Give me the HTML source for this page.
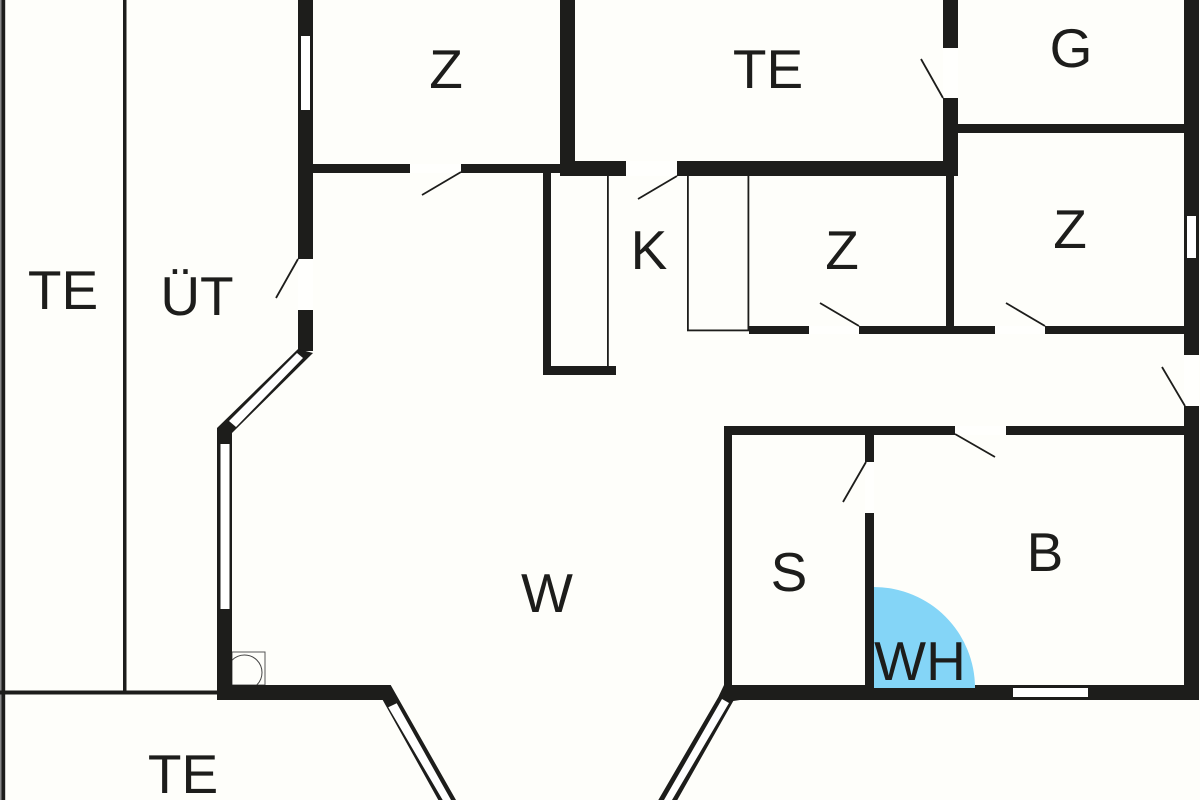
<!DOCTYPE html>
<html>
<head>
<meta charset="utf-8">
<style>
html,body{margin:0;padding:0;background:#fefefa;}
svg{display:block;}
text{font-family:"Liberation Sans",sans-serif;font-size:55px;fill:#1d1d1b;text-anchor:middle;}
</style>
</head>
<body>
<svg width="1200" height="800" viewBox="0 0 1200 800" xmlns="http://www.w3.org/2000/svg">
<rect width="1200" height="800" fill="#fefefa"/>

<!-- blue area -->
<path d="M874 587 A101 101 0 0 1 975 688 L874 688 Z" fill="#84d5f7"/>

<!-- boiler -->
<rect x="232" y="652" width="33" height="33" fill="none" stroke="#555" stroke-width="1"/>
<circle cx="244.5" cy="672.5" r="17.5" fill="none" stroke="#444" stroke-width="1"/>

<g fill="#1d1d1b">
<!-- outer thin lines -->
<rect x="0" y="0" width="1.5" height="800" fill="#888"/>
<rect x="1.5" y="0" width="3.7" height="800"/>
<rect x="123" y="0" width="3.5" height="692"/>
<rect x="0" y="690.5" width="218" height="4"/>

<!-- upper left wall -->
<rect x="298" y="0" width="15" height="259"/>
<rect x="298" y="310" width="15" height="41"/>
<polygon points="298,349 313,353 232,433 217,428"/>
<rect x="217" y="428" width="15" height="272"/>
<rect x="217" y="685" width="168" height="15"/>
<polygon points="380,685 390.7,685 456,800 438.3,800 382.7,700 380,700"/>

<!-- bottom right diag -->
<polygon points="724,685 718.3,697 658.3,800 677.3,800 733.3,701 740,700 740,685"/>

<!-- Z room bottom -->
<rect x="313" y="164" width="97" height="9"/>
<rect x="461" y="164" width="100" height="9"/>

<!-- TE room walls -->
<rect x="560" y="0" width="15" height="176"/>
<rect x="560" y="161" width="66" height="15"/>
<rect x="677" y="161" width="281" height="15"/>
<rect x="943" y="0" width="15" height="48"/>
<rect x="943" y="98" width="15" height="78"/>

<!-- G / right -->
<rect x="958" y="124" width="227" height="9"/>
<rect x="1184" y="0" width="15" height="355"/>

<!-- pillar -->
<rect x="543" y="173" width="8" height="202"/>
<rect x="543" y="366" width="73" height="9"/>
<rect x="607" y="176" width="1.8" height="190"/>

<!-- closet -->
<rect x="687" y="176" width="1.8" height="155"/>
<rect x="747.5" y="176" width="1.8" height="155"/>
<rect x="687" y="329.5" width="62" height="1.8"/>

<!-- Z rooms -->
<rect x="749" y="326" width="60" height="8"/>
<rect x="859" y="326" width="136" height="8"/>
<rect x="1045" y="326" width="140" height="8"/>
<rect x="946" y="176" width="8" height="150"/>

<!-- S / B -->
<rect x="724" y="426" width="231" height="9"/>
<rect x="1006" y="426" width="178" height="9"/>
<rect x="724" y="426" width="8" height="270"/>
<rect x="724" y="685" width="150" height="15"/>
<rect x="874" y="688" width="325" height="12"/>
<rect x="975" y="685" width="224" height="15"/>
<rect x="865" y="435" width="9" height="27"/>
<rect x="865" y="513" width="9" height="175"/>
<rect x="1184" y="406" width="15" height="294"/>
</g>

<!-- windows -->
<g fill="#ffffff">
<rect x="301" y="36" width="9" height="74"/>
<rect x="1187" y="216" width="9" height="42"/>
<rect x="1013" y="688" width="75" height="9"/>
<rect x="220.5" y="444" width="9" height="165"/>
<polygon points="297,353 303,358 236,427 229,421"/>
<polygon points="388.3,707.3 396.7,703.3 451,800 442.7,800"/>
<polygon points="722,699 729,703 672,800 664,800"/>
</g>
<!-- door openings, barely lighter than the page -->
<g fill="#fffffd">
<rect x="298" y="259" width="15" height="51"/>
<rect x="410" y="164" width="51" height="9"/>
<rect x="626" y="161" width="51" height="15"/>
<rect x="943" y="48" width="15" height="50"/>
<rect x="809" y="326" width="50" height="8"/>
<rect x="995" y="326" width="50" height="8"/>
<rect x="1184" y="355" width="15" height="51"/>
<rect x="955" y="426" width="51" height="9"/>
<rect x="865" y="462" width="9" height="51"/>
</g>

<!-- door leaves -->
<g stroke="#1d1d1b" stroke-width="1.8" fill="none">
<line x1="461" y1="172" x2="422" y2="195"/>
<line x1="298" y1="259" x2="276" y2="298"/>
<line x1="677" y1="176" x2="638" y2="199"/>
<line x1="943" y1="98" x2="921" y2="59"/>
<line x1="859" y1="326" x2="820" y2="303"/>
<line x1="1045" y1="326" x2="1006" y2="303"/>
<line x1="1185" y1="406" x2="1162" y2="367"/>
<line x1="955" y1="434" x2="995" y2="457"/>
<line x1="866" y1="462" x2="843" y2="502"/>
</g>

<!-- labels -->
<text x="63" y="309">TE</text>
<text x="197" y="315">ÜT</text>
<text x="183" y="793">TE</text>
<text x="768" y="88">TE</text>
<text x="446" y="88">Z</text>
<text x="1071" y="67">G</text>
<text x="649" y="269">K</text>
<text x="842" y="269">Z</text>
<text x="1070" y="248">Z</text>
<text x="789" y="591">S</text>
<text x="547" y="612">W</text>
<text x="1045" y="571">B</text>
<text x="920" y="680">WH</text>
</svg>
</body>
</html>
